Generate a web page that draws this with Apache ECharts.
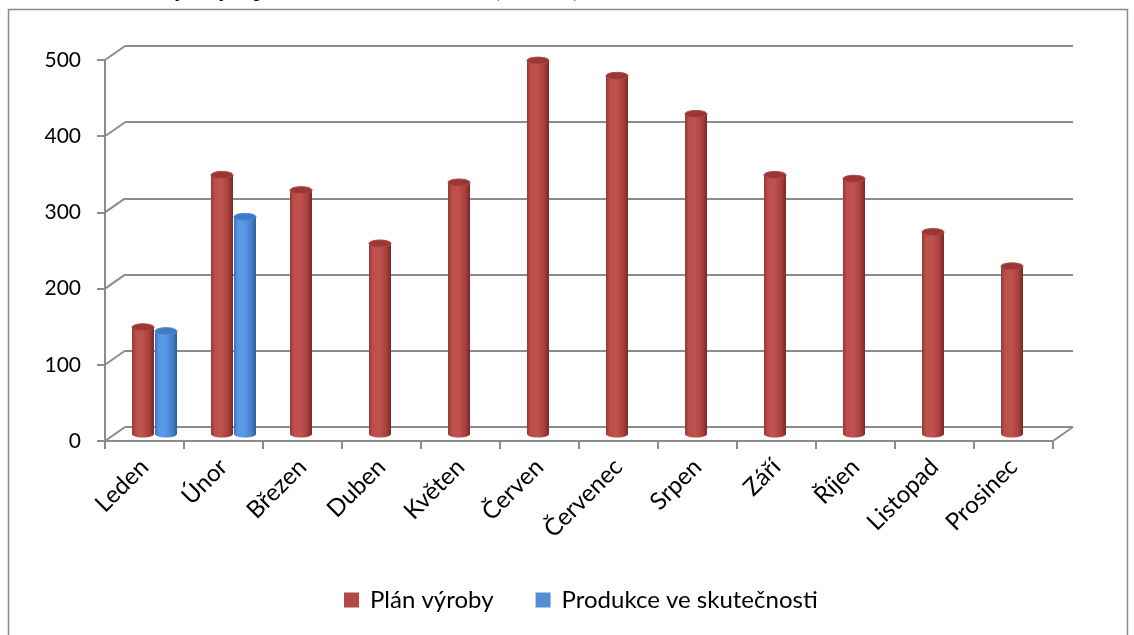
<!DOCTYPE html>
<html>
<head>
<meta charset="utf-8">
<script src="https://cdn.jsdelivr.net/npm/echarts@6/dist/echarts.min.js"></script>
<style>
  html, body { margin: 0; padding: 0; background: #fff; }
  #chart { width: 1134px; height: 635px; }
</style>
</head>
<body>
<div id="chart"></div>
<script>
// Monthly production plan vs. actual output (thousands of pieces)
const months = ['Leden', 'Únor', 'Březen', 'Duben', 'Květen', 'Červen', 'Červenec', 'Srpen', 'Září', 'Říjen', 'Listopad', 'Prosinec'];
const planVyroby = [140, 340, 320, 250, 330, 490, 470, 420, 340, 335, 265, 220];
const produkce = [135, 285, null, null, null, null, null, null, null, null, null, null];
const yTicks = [0, 100, 200, 300, 400, 500];
const seriesNames = ['Plán výroby', 'Produkce ve skutečnosti'];

// oblique "3D" depth of the floor / back wall
const DEPTH_X = 20;
const DEPTH_Y = 14;
const BAR_R = 11;      // cylinder radius (px)
const CAP_RY = 3.5;    // vertical radius of cylinder caps
const GRID_COLOR = '#8c8c8c';
const FONT = 'Lato';

const redStyle = {
  body: [
    { offset: 0, color: '#983835' },
    { offset: 0.18, color: '#bb4e4a' },
    { offset: 0.45, color: '#c1524f' },
    { offset: 0.78, color: '#a8413e' },
    { offset: 1, color: '#7a2826' }
  ],
  top: '#9a3734',
  rim: '#b24a47'
};
const blueStyle = {
  body: [
    { offset: 0, color: '#3a72bd' },
    { offset: 0.18, color: '#5a98e4' },
    { offset: 0.45, color: '#5b99e5' },
    { offset: 0.78, color: '#4582cd' },
    { offset: 1, color: '#2b5d9c' }
  ],
  top: '#3c79c6',
  rim: '#5590da'
};

function cylinder(shift, colors) {
  return function (params, api) {
    const idx = api.value(0);
    const val = api.value(1);
    if (isNaN(val)) return null;
    const base = api.coord([idx, 0]);
    const top = api.coord([idx, val]);
    const cx = base[0] + DEPTH_X / 2 + shift;
    const yb = base[1] - DEPTH_Y / 2;
    const yt = top[1] - DEPTH_Y / 2;
    const fill = new echarts.graphic.LinearGradient(0, 0, 1, 0, colors.body);
    return {
      type: 'group',
      children: [
        { type: 'ellipse', shape: { cx: cx, cy: yb, rx: BAR_R, ry: CAP_RY }, style: { fill: fill } },
        { type: 'rect', shape: { x: cx - BAR_R, y: yt, width: 2 * BAR_R, height: yb - yt }, style: { fill: fill } },
        { type: 'ellipse', shape: { cx: cx, cy: yt, rx: BAR_R, ry: CAP_RY }, style: { fill: colors.top, stroke: colors.rim, lineWidth: 1 } }
      ]
    };
  };
}

// diagonal edges joining the front axes to the back wall
function depthEdges(params, api) {
  const cs = params.coordSys;
  const v = api.value(1);
  const y = api.coord([0, v])[1];
  const st = { stroke: GRID_COLOR, lineWidth: 2 };
  const children = [
    { type: 'line', shape: { x1: cs.x, y1: y, x2: cs.x + DEPTH_X, y2: y - DEPTH_Y }, style: st }
  ];
  if (v === 0) {
    children.push({ type: 'line', shape: { x1: cs.x + cs.width, y1: y, x2: cs.x + cs.width + DEPTH_X, y2: y - DEPTH_Y }, style: st });
  }
  return { type: 'group', children: children };
}

const chart = echarts.init(document.getElementById('chart'), null, { renderer: 'canvas' });

chart.setOption({
  animation: false,
  backgroundColor: '#fff',
  title: {
    text: 'Graf č. 1: Plán výroby a produkce ve skutečnosti (v tis. ks)',
    left: 12,
    top: -27,
    textStyle: { fontFamily: 'Liberation Serif', fontSize: 24, fontWeight: 'normal', color: '#000' }
  },
  graphic: [{
    type: 'rect',
    shape: { x: 8.5, y: 9.5, width: 1119, height: 640 },
    style: { fill: 'none', stroke: '#8a8a8a', lineWidth: 1.5 },
    silent: true,
    z: -10
  }],
  legend: {
    data: seriesNames,
    left: 339,
    top: 583,
    icon: 'rect',
    itemWidth: 15,
    itemHeight: 15,
    itemGap: 42,
    textStyle: { fontFamily: FONT, fontSize: 24, color: '#000', padding: [0, 0, 0, 6] }
  },
  grid: [
    { left: 125, right: 61, top: 46, bottom: 208 },   // back wall
    { left: 105, right: 81, top: 60, bottom: 194 }    // front plane
  ],
  xAxis: [
    { gridIndex: 0, type: 'category', data: months, show: false },
    {
      gridIndex: 1,
      type: 'category',
      data: months,
      boundaryGap: true,
      axisLine: { lineStyle: { color: GRID_COLOR, width: 2 } },
      axisTick: { show: true, interval: 0, length: 8, lineStyle: { color: GRID_COLOR, width: 2 } },
      axisLabel: { interval: 0, rotate: 45, margin: 22, fontFamily: FONT, fontSize: 24, color: '#000' }
    }
  ],
  yAxis: [
    {
      gridIndex: 0,
      type: 'value',
      min: 0, max: 500, interval: 100,
      axisLine: { show: false },
      axisTick: { show: false },
      axisLabel: { show: false },
      splitLine: { show: true, lineStyle: { color: GRID_COLOR, width: 2 } }
    },
    {
      gridIndex: 1,
      type: 'value',
      min: 0, max: 500, interval: 100,
      axisLine: { show: true, lineStyle: { color: GRID_COLOR, width: 2 } },
      axisTick: { show: true, length: 8, lineStyle: { color: GRID_COLOR, width: 2 } },
      axisLabel: { margin: 24, fontFamily: FONT, fontSize: 21, color: '#000' },
      splitLine: { show: false }
    }
  ],
  series: [
    {
      type: 'custom',
      name: 'edges',
      xAxisIndex: 1, yAxisIndex: 1,
      silent: true,
      data: yTicks.map(v => [0, v]),
      encode: { x: 0, y: 1 },
      renderItem: depthEdges,
      z: 1
    },
    {
      type: 'custom',
      name: seriesNames[0],
      xAxisIndex: 1, yAxisIndex: 1,
      itemStyle: { color: '#b24a47' },
      data: planVyroby.map((v, i) => [i, v]),
      encode: { x: 0, y: 1 },
      renderItem: cylinder(-BAR_R - 0.5, redStyle),
      z: 5
    },
    {
      type: 'custom',
      name: seriesNames[1],
      xAxisIndex: 1, yAxisIndex: 1,
      itemStyle: { color: '#558ed5' },
      data: produkce.map((v, i) => [i, v]).filter(d => d[1] !== null),
      encode: { x: 0, y: 1 },
      renderItem: cylinder(BAR_R + 0.5, blueStyle),
      z: 5
    }
  ]
});
</script>
</body>
</html>
